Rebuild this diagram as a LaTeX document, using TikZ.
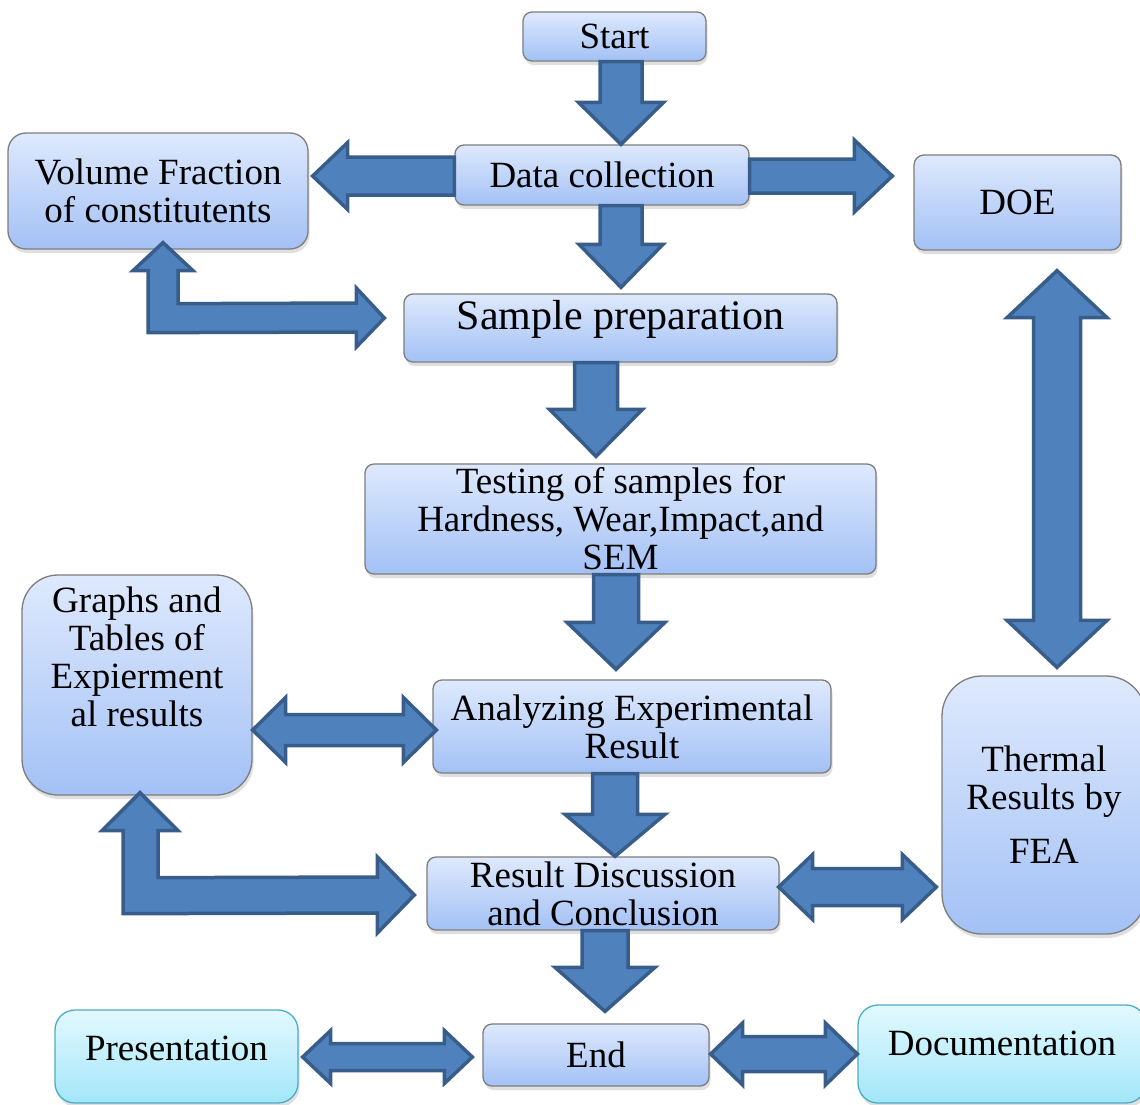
\documentclass[tikz,border=0pt]{standalone}
\usepackage{fontspec}
\setmainfont{Liberation Serif}
\usetikzlibrary{calc,shadows}
\definecolor{boxtop}{RGB}{222,233,253}
\definecolor{boxbot}{RGB}{163,193,245}
\definecolor{boxline}{RGB}{125,125,125}
\definecolor{cyantop}{RGB}{226,249,254}
\definecolor{cyanbot}{RGB}{163,230,249}
\definecolor{cyanline}{RGB}{75,172,198}
\definecolor{arrfill}{RGB}{79,129,189}
\definecolor{arrline}{RGB}{56,93,138}
\tikzset{
 box/.style={draw=boxline, line width=1.3pt, top color=boxtop, bottom color=boxbot,
   rounded corners=9pt, inner sep=0pt, align=center, font=\fontsize{37}{38}\selectfont,
   drop shadow={shadow xshift=1.5pt, shadow yshift=-4pt, opacity=0.25}},
 cbox/.style={box, draw=cyanline, top color=cyantop, bottom color=cyanbot},
 lbl/.style={font=\fontsize{37}{38}\selectfont, align=center, inner sep=0pt},
 blk/.style={fill=arrfill, draw=arrline, line width=3.5pt, line join=miter},
}
% vertical down block arrow: from, to, cx, gap, shaft half, head half, head length
\newcommand\blkdown[7]{%
 \path (#3,0 |- #1.south) coordinate (bt) ($(#3,0 |- #2.north)+(0,{-(#4)})$) coordinate (bp);
 \draw[blk] ($(bt)+(-#5,0)$) -- ($(bt)+(#5,0)$) -- ($(bp)+(#5,-#7)$) -- ($(bp)+(#6,-#7)$) -- (bp) -- ($(bp)+(-#6,-#7)$) -- ($(bp)+(-#5,-#7)$) -- cycle;}
\newcommand\blkleft[7]{%
 \path (#1.west |- 0,#3) coordinate (bt) ($(#2.east |- 0,#3)+({#4},0)$) coordinate (bp);
 \draw[blk] ($(bt)+(0,-#5)$) -- ($(bt)+(0,#5)$) -- ($(bp)+(#7,#5)$) -- ($(bp)+(#7,#6)$) -- (bp) -- ($(bp)+(#7,-#6)$) -- ($(bp)+(#7,-#5)$) -- cycle;}
\newcommand\blkright[7]{%
 \path (#1.east |- 0,#3) coordinate (bt) ($(#2.west |- 0,#3)+({-(#4)},0)$) coordinate (bp);
 \draw[blk] ($(bt)+(0,-#5)$) -- ($(bt)+(0,#5)$) -- ($(bp)+(-#7,#5)$) -- ($(bp)+(-#7,#6)$) -- (bp) -- ($(bp)+(-#7,-#6)$) -- ($(bp)+(-#7,-#5)$) -- cycle;}
\newcommand\blkdblh[8]{%
 \path ($(#1.east |- 0,#3)+({#4},0)$) coordinate (bl) ($(#2.west |- 0,#3)+({-(#5)},0)$) coordinate (br);
 \draw[blk] (bl) -- ($(bl)+(#8,-#7)$) -- ($(bl)+(#8,-#6)$) -- ($(br)+(-#8,-#6)$) -- ($(br)+(-#8,-#7)$) -- (br) -- ($(br)+(-#8,#7)$) -- ($(br)+(-#8,#6)$) -- ($(bl)+(#8,#6)$) -- ($(bl)+(#8,#7)$) -- cycle;}
\newcommand\blkdblv[8]{%
 \path ($(#3,0 |- #1.south)+(0,{#4})$) coordinate (bl) ($(#3,0 |- #2.north)+(0,{-(#5)})$) coordinate (br);
 \draw[blk] (bl) -- ($(bl)+(#7,#8)$) -- ($(bl)+(#6,#8)$) -- ($(br)+(#6,-#8)$) -- ($(br)+(#7,-#8)$) -- (br) -- ($(br)+(-#7,-#8)$) -- ($(br)+(-#6,-#8)$) -- ($(bl)+(-#6,#8)$) -- ($(bl)+(-#7,#8)$) -- cycle;}
\begin{document}
\begin{tikzpicture}[x=1pt,y=-1pt]
\useasboundingbox (0,0) rectangle (1140,1104);
\node[box, minimum width=183pt, minimum height=49pt] (start) at (614.5,36.5) {Start};
\node[box, minimum width=294pt, minimum height=60pt] (data) at (602,175) {Data collection};
\node[box, rounded corners=18pt, minimum width=300pt, minimum height=116pt] (vol) at (158,191) {Volume Fraction\\of constitutents};
\node[box, rounded corners=10pt, minimum width=207pt, minimum height=95pt] (doe) at (1017.5,202.5) {DOE};
\node[box, minimum width=433pt, minimum height=68pt, font=\fontsize{42}{44}\selectfont] (sample) at (620.5,328) {\raisebox{27pt}{Sample preparation}};
\node[box, minimum width=511pt, minimum height=110pt] (test) at (620.5,519) {Testing of samples for\\Hardness, Wear,Impact,and\\SEM};
\node[box, minimum width=398pt, minimum height=93pt] (anal) at (632,726.5) {Analyzing Experimental\\Result};
\node[box, rounded corners=36pt, minimum width=230pt, minimum height=220pt,
  label={[lbl, yshift=28pt]center:{Graphs and\\Tables of\\Expierment\\al results}}] (graphs) at (137,685) {};
\node[box, rounded corners=40pt, minimum width=204pt, minimum height=258pt] (therm) at (1044,805) {Thermal\\Results by\\[16pt]FEA};
\node[box, minimum width=352pt, minimum height=73pt] (res) at (603,893.5) {Result Discussion\\and Conclusion};
\node[box, minimum width=226pt, minimum height=62pt] (end) at (596,1055) {End};
\node[cbox, rounded corners=20pt, minimum width=243pt, minimum height=93pt] (pres) at (176.5,1056.5) {\raisebox{17.5pt}{Presentation}};
\node[cbox, rounded corners=20pt, minimum width=288pt, minimum height=98pt] (doc) at (1002,1054) {\raisebox{22.5pt}{Documentation}};
% block arrows
\blkdown{start}{data}{621}{0}{21}{42.5}{42}
\blkdown{data}{sample}{621}{6}{21}{42}{43}
\blkdown{sample}{test}{596}{7}{21.5}{46.5}{47}
\blkdown{test}{anal}{616}{10}{22.5}{49}{47}
\blkdown{anal}{res}{615}{0}{22.5}{50}{42}
\blkdown{res}{end}{605}{12}{23}{50}{44}
\blkleft{data}{vol}{176}{4}{19}{33.5}{35}
\blkright{data}{doe}{176}{21}{17}{36}{38}
\blkdblh{graphs}{anal}{730}{0}{-4}{15.5}{32.5}{33}
\blkdblh{res}{therm}{887}{-1}{5}{18.5}{32.5}{34}
\blkdblh{pres}{end}{1057}{4}{10}{13.5}{26.5}{28}
\blkdblh{end}{doc}{1054}{1}{0}{17.5}{31}{32}
\blkdblv{doe}{therm}{1057}{20}{8}{23.5}{50}{47}
% elbow arrows
\path ($(163,0 |- vol.south)+(0,-7)$) coordinate (u1) ($(sample.west |- 0,318)+(-19,0)$) coordinate (r1);
\draw[blk] ($(u1)+(-15,90)$) -- ($(u1)+(-15,28)$) -- ($(u1)+(-30,28)$) -- (u1) -- ($(u1)+(30,28)$) -- ($(u1)+(15,28)$) -- ($(u1)+(15,61)$) -- ($(r1)+(-28,-15)$) -- ($(r1)+(-28,-30)$) -- (r1) -- ($(r1)+(-28,29)$) -- ($(r1)+(-28,14)$) -- cycle;
\path ($(140,0 |- graphs.south)+(0,-3)$) coordinate (u2) ($(res.west |- 0,895)+(-12,0)$) coordinate (r2);
\draw[blk] ($(u2)+(-17,121)$) -- ($(u2)+(-17,38)$) -- ($(u2)+(-38,38)$) -- (u2) -- ($(u2)+(38,38)$) -- ($(u2)+(18,38)$) -- ($(u2)+(18,85)$) -- ($(r2)+(-37,-18)$) -- ($(r2)+(-37,-38)$) -- (r2) -- ($(r2)+(-37,38)$) -- ($(r2)+(-37,18)$) -- cycle;
\end{tikzpicture}
\end{document}
